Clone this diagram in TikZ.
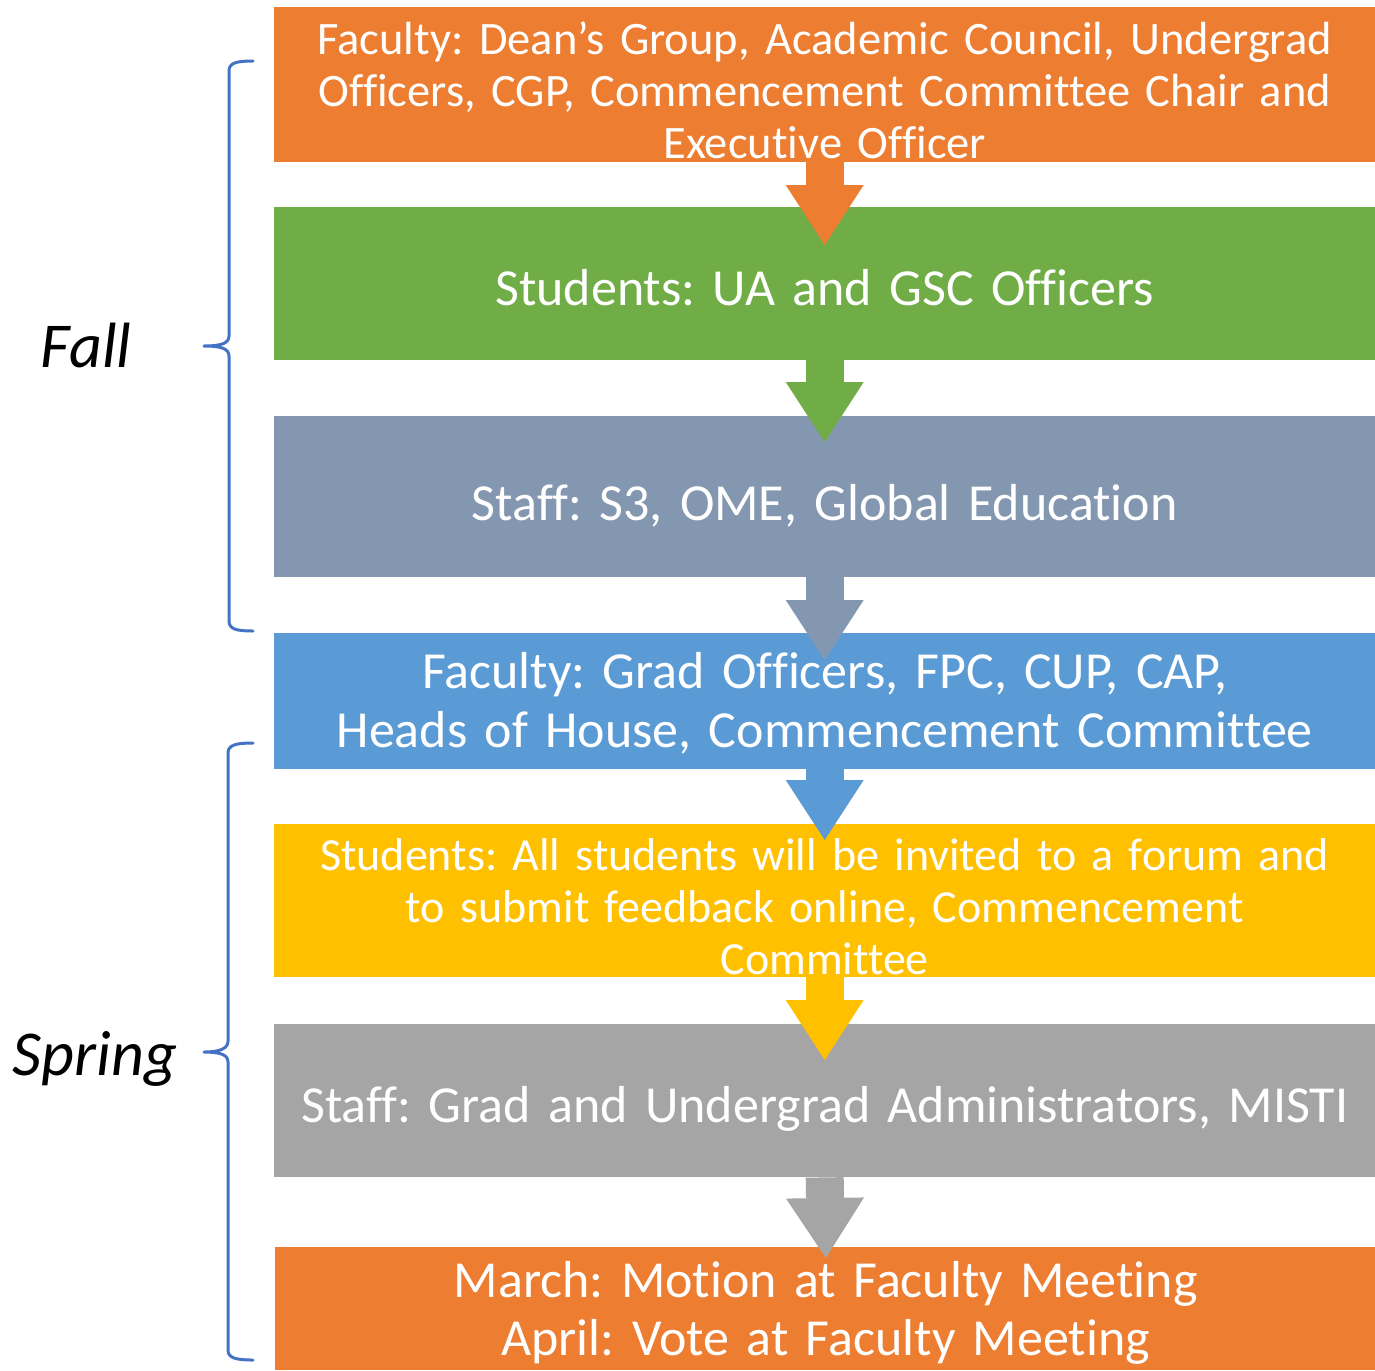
\documentclass[tikz,border=0pt]{standalone}
\usepackage{fontspec}
\setmainfont{Carlito}[Ligatures=NoCommon]
\frenchspacing
\usetikzlibrary{arrows.meta,calc}
\definecolor{corange}{HTML}{ED7D31}
\definecolor{cgreen}{HTML}{70AD47}
\definecolor{cslate}{HTML}{8497B0}
\definecolor{cblue}{HTML}{5B9BD5}
\definecolor{cyellow}{HTML}{FFC000}
\definecolor{cgray}{HTML}{A5A5A5}
\definecolor{cbrace}{HTML}{4472C4}
\tikzset{
  stagebox/.style={rectangle, anchor=north west, inner sep=0pt, minimum width=1101pt},
  boxtext/.style={anchor=base, inner sep=0pt, text width=1101pt, align=center, text=white},
  bigtext/.style={boxtext, font=\fontsize{52}{58}\selectfont},
  smalltext/.style={boxtext, font=\fontsize{46.5}{52}\selectfont},
  blockarrow/.style={line width=38pt, -{Triangle[width=78pt,length=60pt,line width=0pt]}},
  bracestyle/.style={draw=cbrace, line width=3pt, line cap=round, line join=round},
  season/.style={font=\fontsize{64}{72}\selectfont\itshape, anchor=base, inner sep=0pt},
}
\begin{document}
\begin{tikzpicture}[x=1pt,y=-1pt]
\useasboundingbox (0,0) rectangle (1375,1370);
% boxes
\node[stagebox, fill=corange, minimum height=155pt] (b1) at (274,7) {};
\node[stagebox, fill=cgreen,  minimum height=153pt] (b2) at (274,207) {};
\node[stagebox, fill=cslate,  minimum height=161pt] (b3) at (274,416) {};
\node[stagebox, fill=cblue,   minimum height=136pt] (b4) at (274,633) {};
\node[stagebox, fill=cyellow, minimum height=153pt] (b5) at (274,824) {};
\node[stagebox, fill=cgray,   minimum height=153pt] (b6) at (274,1024) {};
\node[stagebox, fill=corange, minimum height=123pt] (b7) at (275,1247) {};
% arrows
\draw[blockarrow, corange, shorten >=-38pt] (b1.south) -- (b2.north);
\draw[blockarrow, cgreen,  shorten >=-26pt] (b2.south) -- (b3.north);
\draw[blockarrow, cslate,  shorten >=-27pt] (b3.south) -- (b4.north);
\draw[blockarrow, cblue,   shorten >=-16pt] (b4.south) -- (b5.north);
\draw[blockarrow, cyellow, shorten >=-36pt] (b5.south) -- (b6.north);
\draw[blockarrow, cgray,   shorten >=-11pt] (b6.south) -- (b7.north);
% box texts
\node[smalltext] (t1) at ($(b1.north)+(0,48)$)
  {Faculty: Dean’s Group, Academic Council, Undergrad\\Officers, CGP, Commencement Committee Chair and\\Executive Officer};
\node[bigtext] (t2) at ($(b2.north)+(0,98)$) {Students: UA and GSC Officers};
\node[bigtext] (t3) at ($(b3.north)+(0,104)$) {Staff: S3, OME, Global Education};
\node[bigtext, font=\fontsize{52}{59}\selectfont] (t4) at ($(b4.north)+(0,55)$)
  {Faculty: Grad Officers, FPC, CUP, CAP,\\Heads of House, Commencement Committee};
\node[smalltext, font=\fontsize{46}{52}\selectfont] (t5) at ($(b5.north)+(0,46)$)
  {Students: All students will be invited to a forum and\\to submit feedback online, Commencement\\Committee};
\node[bigtext] (t6) at ($(b6.north)+(0,98)$) {Staff: Grad and Undergrad Administrators, MISTI};
\node[bigtext] (t7) at ($(b7.north)+(0,50)$)
  {March: Motion at Faculty Meeting\\April: Vote at Faculty Meeting};
% braces
\draw[bracestyle] (253,61) .. controls (236,61) and (229,63) .. (229,71) -- (229,336)
  .. controls (229,343) and (222,346) .. (204,346)
  .. controls (222,346) and (229,349) .. (229,356) -- (229,621)
  .. controls (229,629) and (236,631) .. (253,631);
\draw[bracestyle] (253,743) .. controls (236,743) and (228,745) .. (228,753) -- (228,1041)
  .. controls (228,1048) and (221,1052) .. (204,1052)
  .. controls (221,1052) and (228,1055) .. (228,1062) -- (228,1350)
  .. controls (228,1358) and (236,1360) .. (253,1360);
% season labels
\node[season] (fall) at (86,367) {Fall};
\node[season] (spring) at (95,1075) {Spring};
\end{tikzpicture}
\end{document}
